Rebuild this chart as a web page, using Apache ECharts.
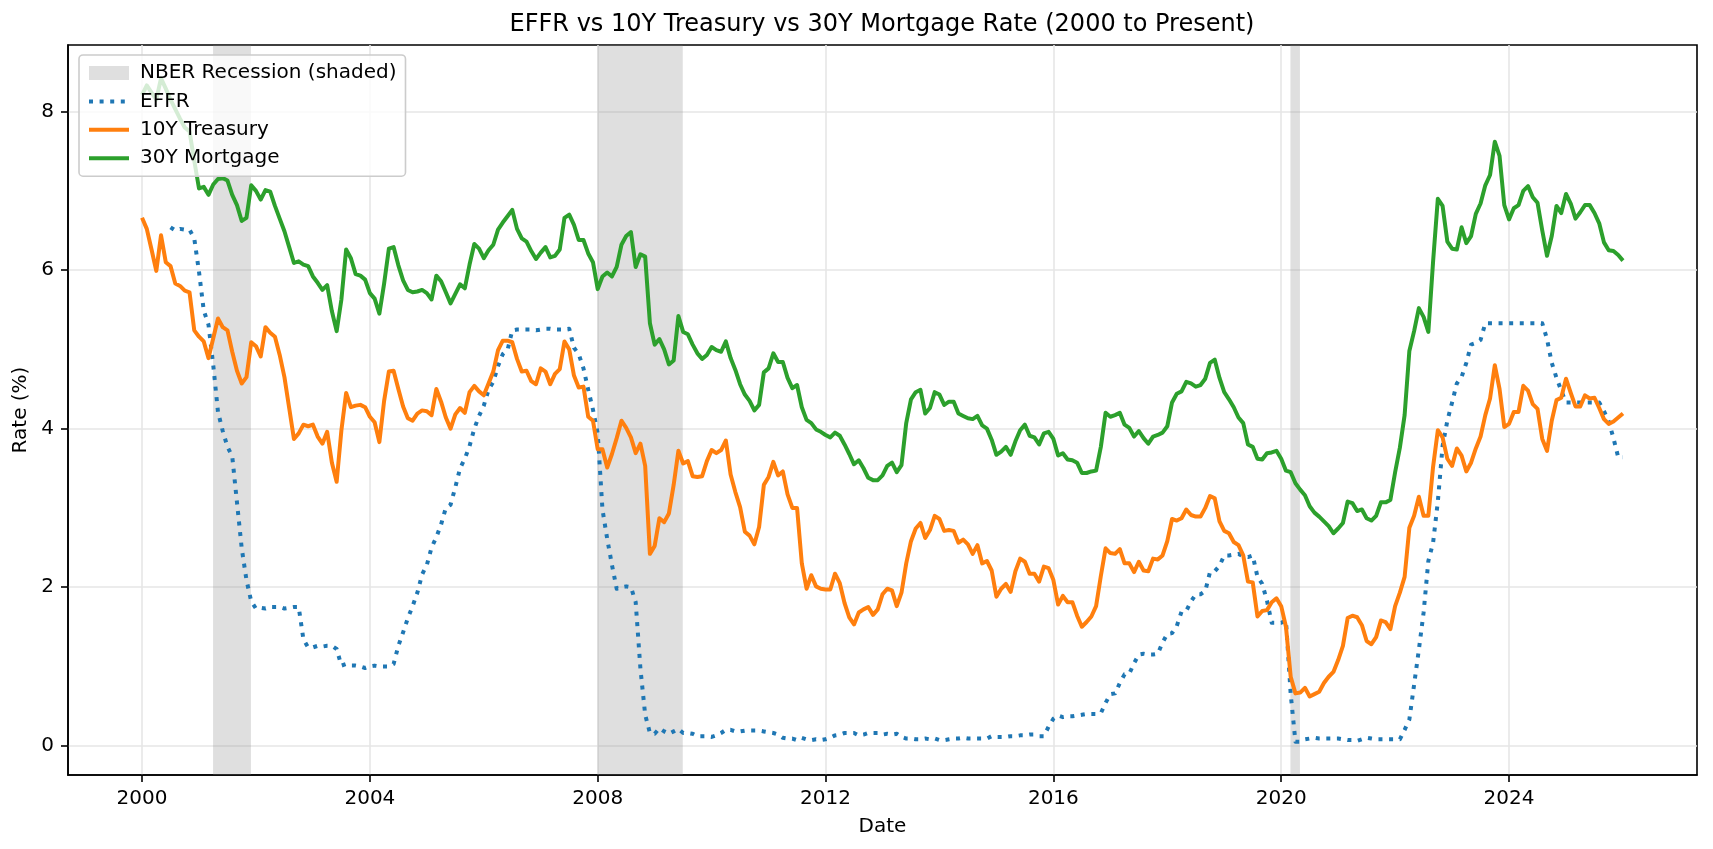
<!DOCTYPE html>
<html>
<head>
<meta charset="utf-8">
<script src="https://cdn.jsdelivr.net/npm/echarts@6/dist/echarts.min.js"></script>
<style>
html,body{margin:0;padding:0;background:#fff;}
#chart{width:1713px;height:849px;}
</style>
</head>
<body>
<div id="chart"></div>
<script>
// ---------- data (monthly, Jan 2000 .. Jan 2026) ----------
const FIRST_YEAR = 2000;
const EFFR_START_MONTH = 6; // EFFR starts July 2000

const effr = [
  6.54, 6.50, 6.52, 6.51, 6.51, 6.40,                                   // 2000 Jul-Dec
  5.98, 5.49, 5.31, 4.80, 4.21, 3.97, 3.77, 3.65, 3.07, 2.49, 2.09, 1.82, // 2001
  1.73, 1.74, 1.73, 1.75, 1.75, 1.75, 1.73, 1.74, 1.75, 1.75, 1.34, 1.24, // 2002
  1.24, 1.26, 1.25, 1.26, 1.26, 1.22, 1.01, 1.03, 1.01, 1.01, 1.00, 0.98, // 2003
  1.00, 1.01, 1.00, 1.00, 1.00, 1.03, 1.26, 1.43, 1.61, 1.76, 1.93, 2.16, // 2004
  2.28, 2.50, 2.63, 2.79, 3.00, 3.04, 3.26, 3.50, 3.62, 3.78, 4.00, 4.16, // 2005
  4.29, 4.49, 4.59, 4.79, 4.94, 4.99, 5.24, 5.25, 5.25, 5.25, 5.25, 5.24, // 2006
  5.25, 5.26, 5.26, 5.25, 5.25, 5.25, 5.26, 5.02, 4.94, 4.76, 4.49, 4.24, // 2007
  3.94, 2.98, 2.61, 2.28, 1.98, 2.00, 2.01, 2.00, 1.81, 0.97, 0.39, 0.16, // 2008
  0.15, 0.22, 0.18, 0.15, 0.18, 0.21, 0.16, 0.16, 0.15, 0.12, 0.12, 0.12, // 2009
  0.11, 0.13, 0.16, 0.20, 0.20, 0.18, 0.18, 0.19, 0.19, 0.19, 0.19, 0.18, // 2010
  0.17, 0.16, 0.14, 0.10, 0.09, 0.09, 0.07, 0.10, 0.08, 0.07, 0.08, 0.07, // 2011
  0.08, 0.10, 0.13, 0.14, 0.16, 0.16, 0.16, 0.13, 0.14, 0.16, 0.16, 0.16, // 2012
  0.14, 0.15, 0.14, 0.15, 0.11, 0.09, 0.09, 0.08, 0.08, 0.09, 0.08, 0.09, // 2013
  0.07, 0.07, 0.08, 0.09, 0.09, 0.10, 0.09, 0.09, 0.09, 0.09, 0.09, 0.12, // 2014
  0.11, 0.11, 0.11, 0.12, 0.12, 0.13, 0.13, 0.14, 0.14, 0.12, 0.12, 0.24, // 2015
  0.34, 0.38, 0.36, 0.37, 0.37, 0.38, 0.39, 0.40, 0.40, 0.40, 0.41, 0.54, // 2016
  0.65, 0.66, 0.79, 0.90, 0.91, 1.04, 1.15, 1.16, 1.15, 1.15, 1.16, 1.30, // 2017
  1.41, 1.42, 1.51, 1.69, 1.70, 1.82, 1.91, 1.91, 1.95, 2.19, 2.20, 2.27, // 2018
  2.40, 2.40, 2.41, 2.42, 2.39, 2.38, 2.40, 2.13, 2.04, 1.83, 1.55, 1.55, // 2019
  1.55, 1.58, 0.65, 0.05, 0.05, 0.08, 0.09, 0.10, 0.09, 0.09, 0.09, 0.09, // 2020
  0.09, 0.08, 0.07, 0.07, 0.06, 0.08, 0.10, 0.09, 0.08, 0.08, 0.08, 0.08, // 2021
  0.08, 0.08, 0.20, 0.33, 0.77, 1.21, 1.68, 2.33, 2.56, 3.08, 3.78, 4.10, // 2022
  4.33, 4.57, 4.65, 4.83, 5.06, 5.08, 5.12, 5.33, 5.33, 5.33, 5.33, 5.33, // 2023
  5.33, 5.33, 5.33, 5.33, 5.33, 5.33, 5.33, 5.33, 5.13, 4.83, 4.64, 4.48, // 2024
  4.33, 4.33, 4.33, 4.33, 4.33, 4.33, 4.33, 4.33, 4.22, 4.09, 3.88, 3.64, // 2025
  3.64                                                                  // 2026 Jan
];

const treasury10y = [
  6.66, 6.52, 6.26, 5.99, 6.44, 6.10, 6.05, 5.83, 5.80, 5.74, 5.72, 5.24, // 2000
  5.16, 5.10, 4.89, 5.14, 5.39, 5.28, 5.24, 4.97, 4.73, 4.57, 4.65, 5.09, // 2001
  5.04, 4.91, 5.28, 5.21, 5.16, 4.93, 4.65, 4.26, 3.87, 3.94, 4.05, 4.03, // 2002
  4.05, 3.90, 3.81, 3.96, 3.57, 3.33, 3.98, 4.45, 4.27, 4.29, 4.30, 4.27, // 2003
  4.15, 4.08, 3.83, 4.35, 4.72, 4.73, 4.50, 4.28, 4.13, 4.10, 4.19, 4.23, // 2004
  4.22, 4.17, 4.50, 4.34, 4.14, 4.00, 4.18, 4.26, 4.20, 4.46, 4.54, 4.47, // 2005
  4.42, 4.57, 4.72, 4.99, 5.11, 5.11, 5.09, 4.88, 4.72, 4.73, 4.60, 4.56, // 2006
  4.76, 4.72, 4.56, 4.69, 4.75, 5.10, 5.00, 4.67, 4.52, 4.53, 4.15, 4.10, // 2007
  3.74, 3.74, 3.51, 3.68, 3.88, 4.10, 4.01, 3.89, 3.69, 3.81, 3.53, 2.42, // 2008
  2.52, 2.87, 2.82, 2.93, 3.29, 3.72, 3.56, 3.59, 3.40, 3.39, 3.40, 3.59, // 2009
  3.73, 3.69, 3.73, 3.85, 3.42, 3.20, 3.01, 2.70, 2.65, 2.54, 2.76, 3.29, // 2010
  3.39, 3.58, 3.41, 3.46, 3.17, 3.00, 3.00, 2.30, 1.98, 2.15, 2.01, 1.98, // 2011
  1.97, 1.97, 2.17, 2.05, 1.80, 1.62, 1.53, 1.68, 1.72, 1.75, 1.65, 1.72, // 2012
  1.91, 1.98, 1.96, 1.76, 1.93, 2.30, 2.58, 2.74, 2.81, 2.62, 2.72, 2.90, // 2013
  2.86, 2.71, 2.72, 2.71, 2.56, 2.60, 2.54, 2.42, 2.53, 2.30, 2.33, 2.21, // 2014
  1.88, 1.98, 2.04, 1.94, 2.20, 2.36, 2.32, 2.17, 2.17, 2.07, 2.26, 2.24, // 2015
  2.09, 1.78, 1.89, 1.81, 1.81, 1.64, 1.50, 1.56, 1.63, 1.76, 2.14, 2.49, // 2016
  2.43, 2.42, 2.48, 2.30, 2.30, 2.19, 2.32, 2.21, 2.20, 2.36, 2.35, 2.40, // 2017
  2.58, 2.86, 2.84, 2.87, 2.98, 2.91, 2.89, 2.89, 3.00, 3.15, 3.12, 2.83, // 2018
  2.71, 2.68, 2.57, 2.53, 2.40, 2.07, 2.06, 1.63, 1.70, 1.71, 1.81, 1.86, // 2019
  1.76, 1.50, 0.87, 0.66, 0.67, 0.73, 0.62, 0.65, 0.68, 0.79, 0.87, 0.93, // 2020
  1.08, 1.26, 1.61, 1.64, 1.62, 1.52, 1.32, 1.28, 1.37, 1.58, 1.56, 1.47, // 2021
  1.76, 1.93, 2.13, 2.75, 2.90, 3.14, 2.90, 2.90, 3.52, 3.98, 3.89, 3.62, // 2022
  3.53, 3.75, 3.66, 3.46, 3.57, 3.75, 3.90, 4.17, 4.38, 4.80, 4.50, 4.02, // 2023
  4.06, 4.21, 4.21, 4.54, 4.48, 4.31, 4.25, 3.87, 3.72, 4.10, 4.36, 4.39, // 2024
  4.63, 4.45, 4.28, 4.28, 4.42, 4.38, 4.39, 4.26, 4.12, 4.06, 4.09, 4.14, // 2025
  4.19                                                                  // 2026 Jan
];

const mortgage30y = [
  8.21, 8.33, 8.24, 8.15, 8.42, 8.29, 8.15, 8.03, 7.91, 7.80, 7.75, 7.38, // 2000
  7.03, 7.05, 6.95, 7.08, 7.15, 7.16, 7.13, 6.95, 6.82, 6.62, 6.66, 7.07, // 2001
  7.00, 6.89, 7.01, 6.99, 6.81, 6.65, 6.49, 6.29, 6.09, 6.11, 6.07, 6.05, // 2002
  5.92, 5.84, 5.75, 5.81, 5.48, 5.23, 5.63, 6.26, 6.15, 5.95, 5.93, 5.88, // 2003
  5.71, 5.64, 5.45, 5.83, 6.27, 6.29, 6.06, 5.87, 5.75, 5.72, 5.73, 5.75, // 2004
  5.71, 5.63, 5.93, 5.86, 5.72, 5.58, 5.70, 5.82, 5.77, 6.07, 6.33, 6.27, // 2005
  6.15, 6.25, 6.32, 6.51, 6.60, 6.68, 6.76, 6.52, 6.40, 6.36, 6.24, 6.14, // 2006
  6.22, 6.29, 6.16, 6.18, 6.26, 6.66, 6.70, 6.57, 6.38, 6.38, 6.21, 6.10, // 2007
  5.76, 5.92, 5.97, 5.92, 6.04, 6.32, 6.43, 6.48, 6.04, 6.20, 6.17, 5.33, // 2008
  5.06, 5.13, 5.00, 4.81, 4.86, 5.42, 5.22, 5.19, 5.06, 4.95, 4.88, 4.93, // 2009
  5.03, 4.99, 4.97, 5.10, 4.89, 4.74, 4.56, 4.43, 4.35, 4.23, 4.30, 4.71, // 2010
  4.76, 4.95, 4.84, 4.84, 4.64, 4.51, 4.55, 4.27, 4.11, 4.07, 3.99, 3.96, // 2011
  3.92, 3.89, 3.95, 3.91, 3.80, 3.68, 3.55, 3.60, 3.50, 3.38, 3.35, 3.35, // 2012
  3.41, 3.53, 3.57, 3.45, 3.54, 4.07, 4.37, 4.46, 4.49, 4.19, 4.26, 4.46, // 2013
  4.43, 4.30, 4.34, 4.34, 4.19, 4.16, 4.13, 4.12, 4.16, 4.04, 4.00, 3.86, // 2014
  3.67, 3.71, 3.77, 3.67, 3.84, 3.98, 4.05, 3.91, 3.89, 3.80, 3.94, 3.96, // 2015
  3.87, 3.66, 3.69, 3.61, 3.60, 3.57, 3.44, 3.44, 3.46, 3.47, 3.77, 4.20, // 2016
  4.15, 4.17, 4.20, 4.05, 4.01, 3.90, 3.97, 3.88, 3.81, 3.90, 3.92, 3.95, // 2017
  4.03, 4.33, 4.44, 4.47, 4.59, 4.57, 4.53, 4.55, 4.63, 4.83, 4.87, 4.64, // 2018
  4.46, 4.37, 4.27, 4.14, 4.07, 3.80, 3.77, 3.62, 3.61, 3.69, 3.70, 3.72, // 2019
  3.62, 3.47, 3.45, 3.31, 3.23, 3.16, 3.02, 2.94, 2.89, 2.83, 2.77, 2.68, // 2020
  2.74, 2.81, 3.08, 3.06, 2.96, 2.98, 2.87, 2.84, 2.90, 3.07, 3.07, 3.10, // 2021
  3.45, 3.76, 4.17, 4.98, 5.23, 5.52, 5.41, 5.22, 6.11, 6.90, 6.81, 6.36, // 2022
  6.27, 6.26, 6.54, 6.34, 6.43, 6.71, 6.84, 7.07, 7.20, 7.62, 7.44, 6.82, // 2023
  6.64, 6.78, 6.82, 7.00, 7.06, 6.92, 6.85, 6.50, 6.18, 6.43, 6.81, 6.72, // 2024
  6.96, 6.84, 6.65, 6.73, 6.82, 6.82, 6.72, 6.59, 6.35, 6.25, 6.24, 6.19, // 2025
  6.12                                                                  // 2026 Jan
];

const yearTicks = [2000, 2004, 2008, 2012, 2016, 2020, 2024];
const rateTicks = [0, 2, 4, 6, 8];
// NBER recessions as [start, end] in decimal years
const recessions = [[2001.247, 2001.912], [2007.997, 2009.493], [2020.162, 2020.329]];
const names = ['NBER Recession (shaded)', 'EFFR', '10Y Treasury', '30Y Mortgage'];
const titleText = 'EFFR vs 10Y Treasury vs 30Y Mortgage Rate (2000 to Present)';

// ---------- chart ----------
const FONT = 'DejaVu Sans';
const FS = 20;
const LW = 4;
function toPoints(values, offsetMonths) {
  return values.map((v, i) => [FIRST_YEAR + (offsetMonths + i) / 12, v]);
}
const hiddenMarker = { opacity: 0, borderWidth: 0 };

const chart = echarts.init(document.getElementById('chart'), null, { renderer: 'canvas' });
const option = {
  animation: false,
  backgroundColor: '#ffffff',
  title: {
    text: titleText,
    left: 882, top: 13, textAlign: 'center', padding: 0,
    textStyle: { fontFamily: FONT, fontSize: 24, fontWeight: 'normal', color: '#000' }
  },
  grid: {
    left: 68, right: 16, top: 45, bottom: 74,
    show: true, borderColor: '#000', borderWidth: 1.6, backgroundColor: 'transparent'
  },
  legend: {
    orient: 'vertical', left: 79, top: 55,
    padding: [8, 9, 8, 8],
    backgroundColor: 'rgba(255,255,255,0.8)',
    borderColor: '#cccccc', borderWidth: 1.6, borderRadius: 4,
    itemWidth: 40, itemHeight: 14, itemGap: 8.4,
    lineStyle: { width: LW },
    textStyle: { fontFamily: FONT, fontSize: FS, color: '#000', lineHeight: 20, padding: [0, 0, 0, 6] },
    data: [
      { name: names[0], icon: 'rect', itemStyle: { color: '#dfdfdf', borderWidth: 0 } },
      { name: names[1], itemStyle: hiddenMarker },
      { name: names[2], itemStyle: hiddenMarker },
      { name: names[3], itemStyle: hiddenMarker }
    ],
    z: 10
  },
  xAxis: {
    type: 'value', min: 1998.7, max: 2027.3,
    name: 'Date', nameLocation: 'middle', nameGap: 42,
    nameTextStyle: { fontFamily: FONT, fontSize: FS, color: '#000' },
    axisLine: { show: true, onZero: false, lineStyle: { color: '#000', width: 1.6 } },
    axisTick: { show: true, customValues: yearTicks, length: 7, lineStyle: { color: '#000', width: 1.6 } },
    axisLabel: { customValues: yearTicks, margin: 14, fontFamily: FONT, fontSize: FS, color: '#000',
                 formatter: v => String(Math.round(v)) },
    splitLine: { show: true, lineStyle: { color: '#e6e6e6', width: 1.6 } }
  },
  yAxis: {
    type: 'value', min: -0.37, max: 8.84,
    name: 'Rate (%)', nameLocation: 'middle', nameRotate: 90, nameGap: 30,
    nameTextStyle: { fontFamily: FONT, fontSize: FS, color: '#000' },
    axisLine: { show: true, onZero: false, lineStyle: { color: '#000', width: 1.6 } },
    axisTick: { show: true, customValues: rateTicks, length: 7, lineStyle: { color: '#000', width: 1.6 } },
    axisLabel: { customValues: rateTicks, margin: 14, fontFamily: FONT, fontSize: FS, color: '#000',
                 formatter: v => String(Math.round(v)) },
    splitLine: { show: true, lineStyle: { color: '#e6e6e6', width: 1.6 } }
  },
  series: [
    {
      name: names[0], type: 'line', data: [], symbol: 'none', silent: true,
      color: '#dfdfdf', lineStyle: { width: 0 },
      markArea: {
        silent: true,
        itemStyle: { color: 'rgba(128,128,128,0.25)' },
        data: recessions.map(r => [{ xAxis: r[0] }, { xAxis: r[1] }])
      },
      z: 1
    },
    {
      name: names[1], type: 'line', data: toPoints(effr, EFFR_START_MONTH),
      symbol: 'none', color: '#1f77b4',
      lineStyle: { width: LW, type: [4, 6.6], cap: 'butt', join: 'round' },
      z: 3
    },
    {
      name: names[2], type: 'line', data: toPoints(treasury10y, 0),
      symbol: 'none', color: '#ff7f0e',
      lineStyle: { width: LW, cap: 'butt', join: 'round' },
      z: 3
    },
    {
      name: names[3], type: 'line', data: toPoints(mortgage30y, 0),
      symbol: 'none', color: '#2ca02c',
      lineStyle: { width: LW, cap: 'butt', join: 'round' },
      z: 3
    }
  ]
};
chart.setOption(option);
</script>
</body>
</html>
